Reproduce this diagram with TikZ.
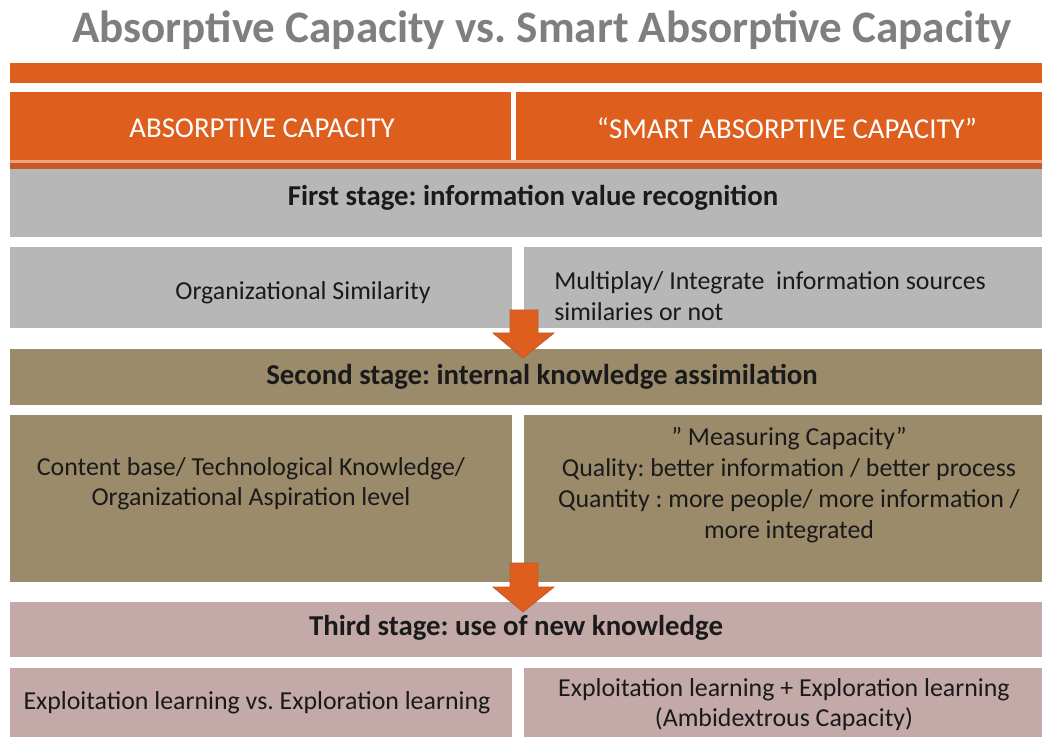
\documentclass[tikz,border=0pt]{standalone}
\usepackage{fontspec}
\setmainfont{Carlito}
\frenchspacing
\definecolor{orng}{HTML}{DE5E1E}
\definecolor{dorng}{HTML}{C25A2C}
\definecolor{lorng}{HTML}{F2A27A}
\definecolor{gry}{HTML}{B7B7B7}
\definecolor{brn}{HTML}{9C8B6B}
\definecolor{pnk}{HTML}{C4A9A9}
\definecolor{ttl}{HTML}{7F7F7F}
\definecolor{txt}{HTML}{1A1A1A}
\begin{document}
\begin{tikzpicture}[x=0.75pt,y=-0.75pt,
  body/.style={font=\fontsize{19.4}{23.3}\selectfont,text=txt,align=center,inner sep=0pt},
  stagetext/.style={font=\fontsize{21.6}{26}\selectfont\bfseries,text=txt,inner sep=0pt},
  headtext/.style={font=\fontsize{21.6}{26}\selectfont,text=white,inner sep=0pt},
  blockarrow/.style={fill=orng,draw=dorng,line width=0.6pt,line join=miter}]
\useasboundingbox (0,0) rectangle (1042,737);
% title
\node[font=\fontsize{33.8}{38}\selectfont\bfseries,text=ttl,inner sep=0pt] (title) at (542,30) {Absorptive Capacity vs. Smart Absorptive Capacity};
% orange bar
\fill[orng] (10,63) rectangle (1042,83);
% header
\fill[orng] (10,92) rectangle (511,160);
\fill[orng] (516,92) rectangle (1042,160);
\fill[lorng] (10,160) rectangle (1042,163);
\fill[dorng] (10,163) rectangle (1042,169);
\node[headtext] (h1) at (262,128) {ABSORPTIVE CAPACITY};
\node[headtext] (h2) at (787,128) {“SMART ABSORPTIVE CAPACITY”};
% stage 1
\fill[gry] (10,169) rectangle (1042,237);
\node[stagetext] (s1) at (533,198) {First stage: information value recognition};
\fill[gry] (10,247) rectangle (512,328);
\fill[gry] (524,247) rectangle (1042,328);
\node[body] (a1) at (303,293) {Organizational Similarity};
\node[body,align=left,anchor=west] (b1) at (554,296) {Multiplay/ Integrate\ \ information sources\\similaries or not};
% stage 2
\fill[brn] (10,349) rectangle (1042,405);
\node[stagetext] (s2) at (542,377) {Second stage: internal knowledge assimilation};
\fill[brn] (10,415) rectangle (512,582);
\fill[brn] (524,415) rectangle (1042,582);
\node[body,font=\fontsize{19.4}{22.6}\selectfont] (a2) at (251,484) {Content base/ Technological Knowledge/\\Organizational Aspiration level};
\node[body] (b2) at (789,485) {” Measuring Capacity”\\Quality: better information / better process\\Quantity : more people/ more information /\\more integrated};
% stage 3
\fill[pnk] (10,602) rectangle (1042,657);
\node[stagetext] (s3) at (516,628) {Third stage: use of new knowledge};
\fill[pnk] (10,668) rectangle (512,737);
\fill[pnk] (524,668) rectangle (1042,737);
\node[body] (a3) at (257,703) {Exploitation learning vs. Exploration learning};
\node[body,font=\fontsize{19.4}{22.5}\selectfont] (b3) at (784,705) {Exploitation learning + Exploration learning\\(Ambidextrous Capacity)};
% arrows
\coordinate (t1) at (523,358);
\coordinate (t2) at (523,612);
\draw[blockarrow] ([shift={(-13,-48)}]t1) -- ([shift={(15,-48)}]t1) -- ([shift={(15,-25)}]t1) -- ([shift={(31,-25)}]t1) -- (t1) -- ([shift={(-30,-25)}]t1) -- ([shift={(-13,-25)}]t1) -- cycle;
\draw[blockarrow] ([shift={(-13,-49)}]t2) -- ([shift={(15,-49)}]t2) -- ([shift={(15,-25)}]t2) -- ([shift={(31,-25)}]t2) -- (t2) -- ([shift={(-30,-25)}]t2) -- ([shift={(-13,-25)}]t2) -- cycle;
\end{tikzpicture}
\end{document}
